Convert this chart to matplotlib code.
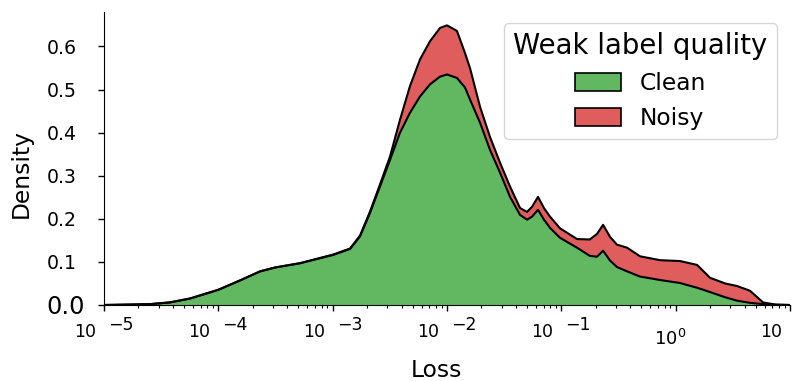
import numpy as np
import matplotlib
matplotlib.use('Agg')
from matplotlib import pyplot as plt
from matplotlib import transforms
from matplotlib.patches import Patch
from matplotlib.ticker import NullFormatter

# log10(loss) positions and stacked density
log_loss = [-5.000, -4.773, -4.598, -4.423, -4.248, -4.003, -3.810, -3.635, -3.504, -3.285,
            -2.997, -2.848, -2.761, -2.673, -2.586, -2.498, -2.411, -2.324, -2.236, -2.149,
            -2.061, -2.000, -1.913, -1.843, -1.799, -1.711, -1.624, -1.536, -1.449, -1.361,
            -1.300, -1.256, -1.204, -1.152, -1.099, -1.012, -0.863, -0.751, -0.688, -0.635,
            -0.574, -0.513, -0.425, -0.312, -0.137, 0.038, 0.187, 0.301, 0.432, 0.537,
            0.650, 0.764, 0.874, 1.000]
clean = [0.000, 0.001, 0.002, 0.006, 0.015, 0.035, 0.057, 0.078, 0.087, 0.097,
         0.116, 0.130, 0.159, 0.214, 0.275, 0.337, 0.400, 0.446, 0.484, 0.512,
         0.530, 0.535, 0.527, 0.505, 0.477, 0.423, 0.360, 0.307, 0.251, 0.209,
         0.198, 0.205, 0.221, 0.198, 0.179, 0.156, 0.133, 0.114, 0.112, 0.126,
         0.103, 0.088, 0.078, 0.066, 0.058, 0.051, 0.040, 0.030, 0.018, 0.010,
         0.005, 0.002, 0.0005, 0.000]
noisy = [0.000, 0.000, 0.000, 0.000, 0.000, 0.000, 0.000, 0.000, 0.000, 0.000,
         0.001, 0.001, 0.002, 0.003, 0.005, 0.008, 0.030, 0.062, 0.086, 0.100,
         0.113, 0.114, 0.109, 0.080, 0.073, 0.037, 0.030, 0.023, 0.024, 0.016,
         0.018, 0.023, 0.030, 0.027, 0.026, 0.022, 0.020, 0.038, 0.053, 0.060,
         0.055, 0.052, 0.055, 0.047, 0.046, 0.051, 0.053, 0.033, 0.032, 0.034,
         0.028, 0.004, 0.0005, 0.000]
labels = ['Clean', 'Noisy']
colors = ['tab:green', 'tab:red']
decades = [-5, -4, -3, -2, -1, 0, 1]
yt = [0.0, 0.1, 0.2, 0.3, 0.4, 0.5, 0.6]

loss = 10 ** np.array(log_loss)
c = np.array(clean)
total = c + np.array(noisy)

fig = plt.figure(figsize=(7.92, 3.81), dpi=100)
ax = fig.add_axes([0.1313, 0.1995, 0.8662, 0.769])

ax.fill_between(loss, 0, c, facecolor=colors[0], alpha=0.75, edgecolor='none')
ax.fill_between(loss, c, total, facecolor=colors[1], alpha=0.75, edgecolor='none')
ax.plot(loss, c, color='black', lw=1.5)
ax.plot(loss, total, color='black', lw=1.5)

ax.set_xscale('log')
ax.set_xlim(1e-5, 1e1)
ax.set_ylim(0, 0.68)
ax.spines['top'].set_visible(False)
ax.spines['right'].set_visible(False)

# x tick labels placed by hand (exponent sits apart from the 10)
ax.set_xticks([10.0 ** d for d in decades])
ax.xaxis.set_major_formatter(NullFormatter())
ax.xaxis.set_minor_formatter(NullFormatter())
ax.tick_params(axis='x', which='major', length=4.5, width=1)
ax.tick_params(axis='x', which='minor', length=2.5, width=0.8)
blend = transforms.blended_transform_factory(ax.transData, ax.transAxes)
for d in decades:
    if d == 0:
        ax.text(10.0 ** d, 0, r'$10^{0}$', fontsize=13, ha='center', va='baseline',
                transform=transforms.offset_copy(blend, fig=fig, x=-6, y=-40, units='dots'))
        continue
    ax.text(10.0 ** d, 0, '10', fontsize=12.5, ha='right', va='baseline',
            transform=transforms.offset_copy(blend, fig=fig, x=-8, y=-32, units='dots'))
    if d < 1:
        ax.text(10.0 ** d, 0, '\u2212%d' % abs(d), fontsize=12.5, ha='left', va='baseline',
                transform=transforms.offset_copy(blend, fig=fig, x=4, y=-25, units='dots'))

ax.set_yticks(yt)
ax.set_yticklabels(['%.1f' % v for v in yt])
ax.tick_params(axis='y', length=4.5, width=1, labelsize=13.6, pad=37)
for lab in ax.get_yticklabels():
    lab.set_horizontalalignment('left')
ax.get_yticklabels()[0].set_fontsize(17.3)

ax.set_xlabel('Loss', fontsize=16.8)
ax.xaxis.set_label_coords(0.485, -0.183)
ax.set_ylabel('Density', fontsize=16.8)
ax.yaxis.set_label_coords(-0.104, 0.45)

handles = [Patch(facecolor=matplotlib.colors.to_rgba(col, 0.75), edgecolor='black', lw=1.2)
           for col in colors]
leg = ax.legend(handles, labels, title='Weak label quality', fontsize=16.8,
                title_fontsize=19.8, loc='upper right', bbox_to_anchor=(0.981, 0.962),
                borderaxespad=0, handlelength=2.0, handleheight=0.8)
leg.get_frame().set_edgecolor('#cccccc')

fig.savefig('out.png', dpi=100)
